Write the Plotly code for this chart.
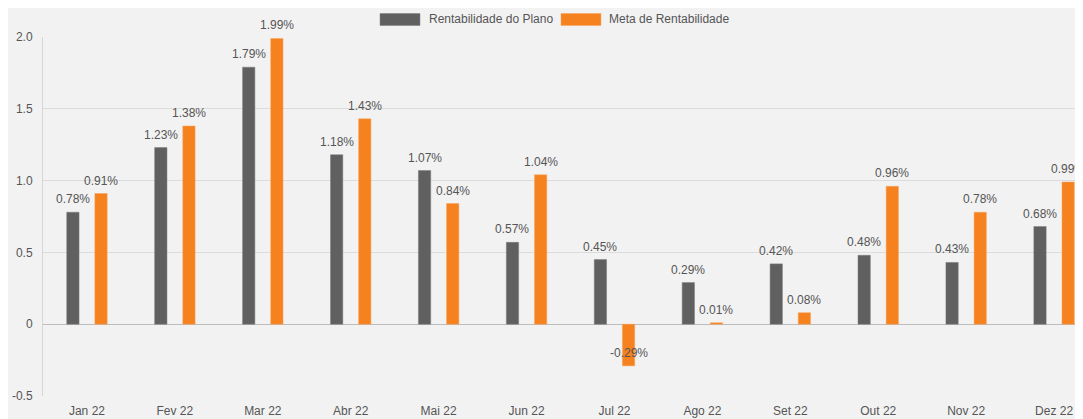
import plotly.graph_objects as go

months = ["Jan 22", "Fev 22", "Mar 22", "Abr 22", "Mai 22", "Jun 22",
          "Jul 22", "Ago 22", "Set 22", "Out 22", "Nov 22", "Dez 22"]
plano = [0.78, 1.23, 1.79, 1.18, 1.07, 0.57, 0.45, 0.29, 0.42, 0.48, 0.43, 0.68]
meta = [0.91, 1.38, 1.99, 1.43, 0.84, 1.04, -0.29, 0.01, 0.08, 0.96, 0.78, 0.99]
y_ticks = [-0.5, 0, 0.5, 1.0, 1.5, 2.0]
y_tick_text = ["-0.5", "0", "0.5", "1.0", "1.5", "2.0"]
series_names = ["Rentabilidade do Plano", "Meta de Rentabilidade"]

GRAY = "#606060"
ORANGE = "#f5821f"
FONT = "Liberation Sans, Arial, sans-serif"
TXT = "#555555"

xs = list(range(len(months)))
fig = go.Figure()
fig.add_trace(go.Bar(x=xs, y=plano, name=series_names[0],
                     width=0.14, offset=-0.23, showlegend=False,
                     marker=dict(color=GRAY, line=dict(color="#7a7a7a", width=0.5))))
fig.add_trace(go.Bar(x=xs, y=meta, name=series_names[1],
                     width=0.14, offset=0.09, showlegend=False,
                     marker=dict(color=ORANGE, line=dict(color="#f9a35a", width=0.5))))

annotations = []
for i, v in enumerate(plano):
    annotations.append(dict(x=i - 0.16, y=v, xref="x", yref="y", text=f"{v:.2f}%",
                            showarrow=False, yanchor="bottom", yshift=4,
                            font=dict(size=12, color=TXT, family=FONT)))
for i, v in enumerate(meta):
    annotations.append(dict(x=i + 0.16, y=v, xref="x", yref="y", text=f"{v:.2f}%",
                            showarrow=False, yanchor="bottom", yshift=4,
                            font=dict(size=12, color=TXT, family=FONT)))

# manual legend (wide swatches like the reference)
legend_items = [(series_names[0], GRAY, "#7a7a7a", 0.3216, 0.3597, 0.3664),
                (series_names[1], ORANGE, "#f9a35a", 0.4943, 0.5324, 0.5382)]
shapes = []
for name, col, lcol, x0, x1, xt in legend_items:
    shapes.append(dict(type="rect", xref="paper", yref="paper", x0=x0, x1=x1,
                       y0=1.032, y1=1.0655, fillcolor=col,
                       line=dict(color=lcol, width=0.5)))
    annotations.append(dict(x=xt, y=1.0501, xref="paper", yref="paper", text=name,
                            showarrow=False, xanchor="left", yanchor="middle",
                            font=dict(size=12, color=TXT, family=FONT)))

fig.update_layout(
    width=1083, height=419,
    paper_bgcolor="#f2f2f2", plot_bgcolor="#f2f2f2",
    margin=dict(l=35, r=0, t=29, b=31),
    barmode="overlay",
    font=dict(family=FONT, size=12, color=TXT),
    showlegend=False,
    annotations=annotations,
    shapes=shapes,
    xaxis=dict(tickvals=xs, ticktext=months, range=[-0.5, 11.42],
               showgrid=False, zeroline=False, showline=False, ticks="",
               ticklabelstandoff=6, automargin=False,
               tickfont=dict(size=12, color=TXT)),
    yaxis=dict(range=[-0.5, 2.0], tickvals=y_ticks, ticktext=y_tick_text,
               showgrid=True, gridcolor="#dcdcdc", gridwidth=1,
               zeroline=True, zerolinecolor="#bdbdbd", zerolinewidth=1,
               showline=True, linecolor="#d6d6d6", linewidth=1,
               ticks="", ticklabelstandoff=7, automargin=False,
               tickfont=dict(size=12, color=TXT)),
)

fig.write_html("out.html")
